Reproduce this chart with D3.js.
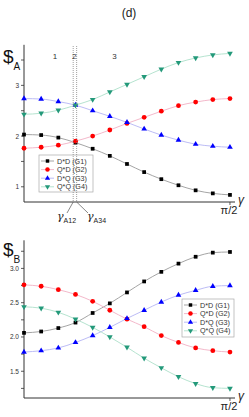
<!DOCTYPE html>
<html>
<head>
<meta charset="utf-8">
<script src="https://cdn.jsdelivr.net/npm/d3@7"></script>
<style>
  body { margin: 0; background: #fff; }
  svg { display: block; }
  text { font-family: "Liberation Sans", Arial, sans-serif; }
</style>
</head>
<body>
<script>
// gamma in degrees, 0 .. 90 (pi/2)
var gammaDeg = [0, 7.5, 15, 22.5, 30, 37.5, 45, 52.5, 60, 67.5, 75, 82.5, 90];

// panel A
var a_G1 = [2.03, 2.02, 1.97, 1.87, 1.75, 1.61, 1.45, 1.29, 1.15, 1.03, 0.93, 0.87, 0.84];
var a_G2 = [1.76, 1.78, 1.82, 1.90, 2.00, 2.12, 2.25, 2.37, 2.49, 2.60, 2.67, 2.72, 2.74];
var a_G3 = [2.74, 2.73, 2.68, 2.61, 2.50, 2.39, 2.27, 2.14, 2.02, 1.92, 1.84, 1.80, 1.78];
var a_G4 = [2.43, 2.45, 2.51, 2.61, 2.72, 2.87, 3.02, 3.17, 3.32, 3.45, 3.54, 3.60, 3.63];

// panel B
var b_G1 = [2.06, 2.08, 2.13, 2.21, 2.35, 2.49, 2.65, 2.81, 2.95, 3.07, 3.17, 3.23, 3.24];
var b_G2 = [2.76, 2.74, 2.69, 2.62, 2.52, 2.39, 2.26, 2.15, 2.02, 1.92, 1.84, 1.80, 1.78];
var b_G3 = [1.78, 1.80, 1.84, 1.92, 2.02, 2.14, 2.27, 2.39, 2.51, 2.61, 2.68, 2.74, 2.75];
var b_G4 = [2.44, 2.42, 2.36, 2.26, 2.14, 2.00, 1.85, 1.69, 1.55, 1.42, 1.32, 1.26, 1.25];

var seriesNames = ["D*D (G1)", "Q*D (G2)", "D*Q (G3)", "Q*Q (G4)"];
var markerColors = ["#000000", "#ff0000", "#0000ff", "#23997a"];
var lineColors = ["#9a9a9a", "#f2b0c4", "#b4b4f4", "#ade0ca"];
var markerTypes = [d3.symbolSquare, d3.symbolCircle, d3.symbolTriangle, d3.symbolTriangle];

var aTicks = [1, 2, 3];
var aMinor = [1.5, 2.5, 3.5];
var bTicks = [1.5, 2.0, 2.5, 3.0];
var bMinor = [1.25, 1.75, 2.25, 2.75, 3.25];

var regionLabels = ["1", "2", "3"];
var regionPos = [13.5, 22, 39.5];
var gammaA12 = 21.5, gammaA34 = 23;

var W = 249, H = 417;
var svg = d3.select("body").append("svg").attr("width", W).attr("height", H);

var x = d3.scaleLinear().domain([0, 92.2]).range([24, 235]);

function drawPanel(cfg) {
    var g = svg.append("g");
    var y = d3.scaleLinear().domain(cfg.yDomain).range(cfg.yRange);
    var x0 = x.range()[0], x1 = x.range()[1];
    var yb = cfg.yRange[0], yt = cfg.yRange[1];

    g.append("line").attr("x1", x0).attr("x2", x0).attr("y1", yt).attr("y2", yb)
        .attr("stroke", "#333").attr("stroke-width", 1);
    g.append("line").attr("x1", x0).attr("x2", x1).attr("y1", yb).attr("y2", yb)
        .attr("stroke", "#333").attr("stroke-width", 1);

    cfg.ticks.concat(cfg.minor).forEach(function (t) {
        g.append("line").attr("x1", x0 - 3).attr("x2", x0).attr("y1", y(t)).attr("y2", y(t))
            .attr("stroke", "#333").attr("stroke-width", 0.8);
    });
    cfg.ticks.forEach(function (t) {
        g.append("text").attr("x", x0 - 5).attr("y", y(t) + 2.5).attr("text-anchor", "end")
            .attr("font-size", 6.5).attr("fill", "#333").text(cfg.fmt(t));
    });

    // pi/2 tick
    g.append("line").attr("x1", x(90)).attr("x2", x(90)).attr("y1", yb).attr("y2", yb + 3)
        .attr("stroke", "#333").attr("stroke-width", 0.8);
    g.append("text").attr("x", x(90) - 1).attr("y", yb + 12).attr("text-anchor", "middle")
        .attr("font-family", "Liberation Serif, serif").attr("font-size", 11).attr("fill", "#222").text("\u03c0/2");
    g.append("text").attr("x", 238).attr("y", yb + 2).attr("font-family", "DejaVu Serif, serif")
        .attr("font-style", "italic").attr("font-size", 12).attr("fill", "#222").text("\u03b3");

    // y label
    var lab = g.append("text").attr("x", 3).attr("y", cfg.labelY).attr("fill", "#111");
    lab.append("tspan").attr("font-size", 19).text("$");
    lab.append("tspan").attr("font-size", 10).attr("dy", 7).text(cfg.sub);

    var line = d3.line()
        .x(function (d, i) { return x(gammaDeg[i]); })
        .y(function (d) { return y(d); })
        .curve(d3.curveMonotoneX);

    cfg.data.forEach(function (vals, s) {
        g.append("path").attr("d", line(vals)).attr("fill", "none")
            .attr("stroke", lineColors[s]).attr("stroke-width", 0.9);
    });
    cfg.data.forEach(function (vals, s) {
        var sym = d3.symbol().type(markerTypes[s]).size(s === 1 ? 18 : 14);
        g.selectAll(null).data(vals).enter().append("path")
            .attr("d", sym)
            .attr("transform", function (d, i) {
                return "translate(" + x(gammaDeg[i]) + "," + y(d) + ")" + (s === 3 ? " rotate(180)" : "");
            })
            .attr("fill", markerColors[s]);
    });

    // legend
    var L = cfg.legend;
    g.append("rect").attr("x", L.x).attr("y", L.y).attr("width", L.w).attr("height", L.h)
        .attr("fill", "#fff").attr("stroke", "#aaa").attr("stroke-width", 0.7);
    seriesNames.forEach(function (name, s) {
        var ry = L.y + 6 + s * 8.6;
        g.append("line").attr("x1", L.x + 2).attr("x2", L.x + 15).attr("y1", ry).attr("y2", ry)
            .attr("stroke", lineColors[s]).attr("stroke-width", 0.9);
        g.append("path").attr("d", d3.symbol().type(markerTypes[s]).size(s === 1 ? 16 : 12))
            .attr("transform", "translate(" + (L.x + 8.5) + "," + ry + ")" + (s === 3 ? " rotate(180)" : ""))
            .attr("fill", markerColors[s]);
        g.append("text").attr("x", L.x + 18).attr("y", ry + 2.6).attr("font-size", 7.2)
            .attr("fill", "#333").text(name);
    });
    return { g: g, y: y };
}

var panelA = drawPanel({
    yDomain: [0.70, 3.8], yRange: [202, 44.8],
    ticks: aTicks, minor: aMinor, fmt: d3.format("d"),
    labelY: 63, sub: "A",
    data: [a_G1, a_G2, a_G3, a_G4],
    legend: { x: 39, y: 155, w: 54, h: 37 }
});

// crossing lines and region labels for panel A
[gammaA12, gammaA34].forEach(function (gm) {
    panelA.g.append("line").attr("x1", x(gm)).attr("x2", x(gm)).attr("y1", 46).attr("y2", 202)
        .attr("stroke", "#777").attr("stroke-width", 0.7).attr("stroke-dasharray", "1,1");
});
regionLabels.forEach(function (r, i) {
    panelA.g.append("text").attr("x", x(regionPos[i])).attr("y", 59).attr("text-anchor", "middle")
        .attr("font-size", 8).attr("fill", "#333").text(r);
});
panelA.g.append("line").attr("x1", x(gammaA12)).attr("y1", 202).attr("x2", 67).attr("y2", 213)
    .attr("stroke", "#555").attr("stroke-width", 0.7);
panelA.g.append("line").attr("x1", x(gammaA34)).attr("y1", 202).attr("x2", 88).attr("y2", 213)
    .attr("stroke", "#555").attr("stroke-width", 0.7);
[["A12", 57], ["A34", 87]].forEach(function (d) {
    var t = panelA.g.append("text").attr("x", d[1]).attr("y", 220).attr("fill", "#222");
    t.append("tspan").attr("font-family", "DejaVu Serif, serif").attr("font-style", "italic")
        .attr("font-size", 11).text("\u03b3");
    t.append("tspan").attr("font-size", 7).attr("dy", 3).text(d[0]);
});

svg.append("text").attr("x", 129).attr("y", 17).attr("text-anchor", "middle")
    .attr("font-family", "Liberation Serif, serif").attr("font-size", 12).attr("fill", "#222").text("(d)");

drawPanel({
    yDomain: [1.11, 3.41], yRange: [398, 240.3],
    ticks: bTicks, minor: bMinor, fmt: d3.format(".1f"),
    labelY: 256, sub: "B",
    data: [b_G1, b_G2, b_G3, b_G4],
    legend: { x: 182, y: 299, w: 52, h: 38 }
});
</script>
</body>
</html>
